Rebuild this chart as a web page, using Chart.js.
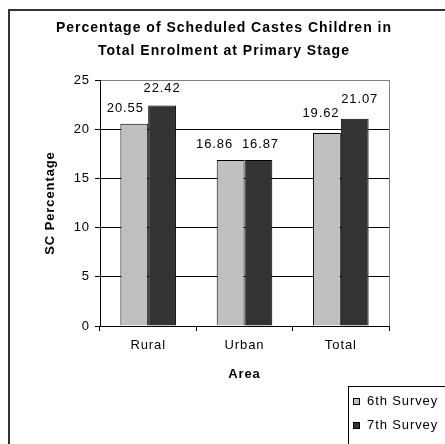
<!DOCTYPE html>
<html>
<head>
<meta charset="utf-8">
<script src="https://cdn.jsdelivr.net/npm/chart.js@4.4.1/dist/chart.umd.min.js"></script>
<style>
  html, body { margin: 0; padding: 0; background: #fff; overflow: hidden; }
  canvas { display: block; }
</style>
</head>
<body>
<canvas id="chart" width="445" height="444"></canvas>
<script>
// Share of Scheduled Castes children in primary enrolment, by area
const areas = ['Rural', 'Urban', 'Total'];
const survey6 = [20.55, 16.86, 19.62];
const survey7 = [22.42, 16.87, 21.07];
const seriesNames = ['6th Survey', '7th Survey'];
const yTickValues = [0, 5, 10, 15, 20, 25];
const titleLines = ['Percentage of Scheduled Castes Children in', 'Total Enrolment at Primary Stage'];
const yTitle = 'SC Percentage';
const xTitle = 'Area';

const FONT = "'Liberation Sans', Arial, Helvetica, sans-serif";
const LIGHT = '#C0C0C0';
const DARK = '#333333';
const SPACING = '0.9px';

// shift of each value label's baseline from its bar top, [category][series] -> [dx, dy]
const labelShift = [
  [[-9, -12], [0, -13]],
  [[-16, -12], [2, -12]],
  [[-6, -16], [5, -16]]
];

// Excel-like loose letter spacing for every text drawn on the canvas
const spacingPlugin = {
  id: 'spacing',
  beforeLayout(chart) { chart.ctx.letterSpacing = SPACING; },
  beforeDraw(chart) { chart.ctx.letterSpacing = SPACING; }
};

// outer frame, chart title and plot border
const framePlugin = {
  id: 'frame',
  beforeDraw(chart) {
    const ctx = chart.ctx;
    ctx.save();
    ctx.fillStyle = '#fff';
    ctx.fillRect(0, 0, chart.width, chart.height);
    ctx.strokeStyle = '#333';
    ctx.lineWidth = 2;
    ctx.beginPath();
    ctx.moveTo(9, chart.height + 2);
    ctx.lineTo(9, 10);
    ctx.lineTo(chart.width + 2, 10);
    ctx.stroke();

    ctx.fillStyle = '#000';
    ctx.font = 'bold 14px ' + FONT;
    ctx.letterSpacing = '1px';
    ctx.textAlign = 'center';
    ctx.textBaseline = 'middle';
    titleLines.forEach((line, i) => ctx.fillText(line, 224, 28 + i * 23));
    ctx.restore();
  },
  beforeDatasetsDraw(chart) {
    const a = chart.chartArea;
    const ctx = chart.ctx;
    ctx.save();
    ctx.strokeStyle = '#808080';
    ctx.lineWidth = 1;
    ctx.beginPath();
    ctx.moveTo(Math.round(a.right) + 0.5, Math.round(a.top));
    ctx.lineTo(Math.round(a.right) + 0.5, Math.round(a.bottom));
    ctx.stroke();
    ctx.restore();
  }
};

// value labels above each bar
const valueLabelPlugin = {
  id: 'valueLabels',
  afterDatasetsDraw(chart) {
    const ctx = chart.ctx;
    ctx.save();
    ctx.font = '13px ' + FONT;
    ctx.fillStyle = '#000';
    ctx.textAlign = 'center';
    ctx.textBaseline = 'alphabetic';
    chart.data.datasets.forEach((ds, di) => {
      const meta = chart.getDatasetMeta(di);
      meta.data.forEach((bar, i) => {
        const [dx, dy] = labelShift[i][di];
        ctx.fillText(ds.data[i].toFixed(2), bar.x + dx, bar.y + dy);
      });
    });
    ctx.restore();
  }
};

// boxed legend at the lower right
const legendBoxPlugin = {
  id: 'legendBox',
  afterDraw(chart) {
    const ctx = chart.ctx;
    ctx.save();
    ctx.strokeStyle = '#000';
    ctx.lineWidth = 1;
    ctx.strokeRect(348.5, 386.5, 110, 70);
    ctx.font = '13px ' + FONT;
    ctx.textAlign = 'left';
    ctx.textBaseline = 'middle';
    chart.data.datasets.forEach((ds, i) => {
      const y = 401 + i * 24;
      ctx.fillStyle = ds.backgroundColor;
      ctx.fillRect(353, y - 3, 7, 7);
      ctx.strokeStyle = '#000';
      ctx.strokeRect(353.5, y - 2.5, 6, 6);
      ctx.fillStyle = '#000';
      ctx.fillText(ds.label, 367, y);
    });
    ctx.restore();
  }
};

new Chart(document.getElementById('chart'), {
  type: 'bar',
  data: {
    labels: areas,
    datasets: [
      { label: seriesNames[0], data: survey6, backgroundColor: LIGHT, borderColor: '#000', borderWidth: 1 },
      { label: seriesNames[1], data: survey7, backgroundColor: DARK, borderColor: '#000', borderWidth: 1 }
    ]
  },
  options: {
    responsive: false,
    animation: false,
    events: [],
    devicePixelRatio: 1,
    layout: { padding: { left: 0, top: 80, right: 56, bottom: 62 } },
    datasets: {
      bar: { categoryPercentage: 0.577, barPercentage: 1.0, borderSkipped: 'start' }
    },
    plugins: {
      legend: { display: false },
      title: { display: false },
      tooltip: { enabled: false }
    },
    scales: {
      x: {
        offset: true,
        grid: {
          offset: true,
          drawOnChartArea: false,
          drawTicks: true,
          tickLength: 5,
          color: '#000'
        },
        border: { color: '#000', width: 1 },
        ticks: { color: '#000', font: { family: FONT, size: 13 }, padding: 7 },
        title: {
          display: true,
          text: xTitle,
          color: '#000',
          font: { family: FONT, size: 13, weight: 'bold' },
          padding: { top: 0, bottom: 0 }
        },
        afterFit(scale) { scale.height = 56; }
      },
      y: {
        min: 0,
        max: 25,
        afterBuildTicks(scale) { scale.ticks = yTickValues.map(v => ({ value: v })); },
        grid: {
          color: c => (c.tick && c.tick.value === 25 ? '#808080' : '#000'),
          tickColor: '#000',
          tickLength: 5,
          drawTicks: true
        },
        border: { color: '#000', width: 1 },
        ticks: { color: '#000', font: { family: FONT, size: 13 }, padding: 5 },
        title: {
          display: true,
          text: yTitle,
          color: '#000',
          font: { family: FONT, size: 13, weight: 'bold' },
          padding: { top: 43, bottom: 0 }
        },
        afterFit(scale) { scale.width = 100; }
      }
    }
  },
  plugins: [spacingPlugin, framePlugin, valueLabelPlugin, legendBoxPlugin]
});
</script>
</body>
</html>
